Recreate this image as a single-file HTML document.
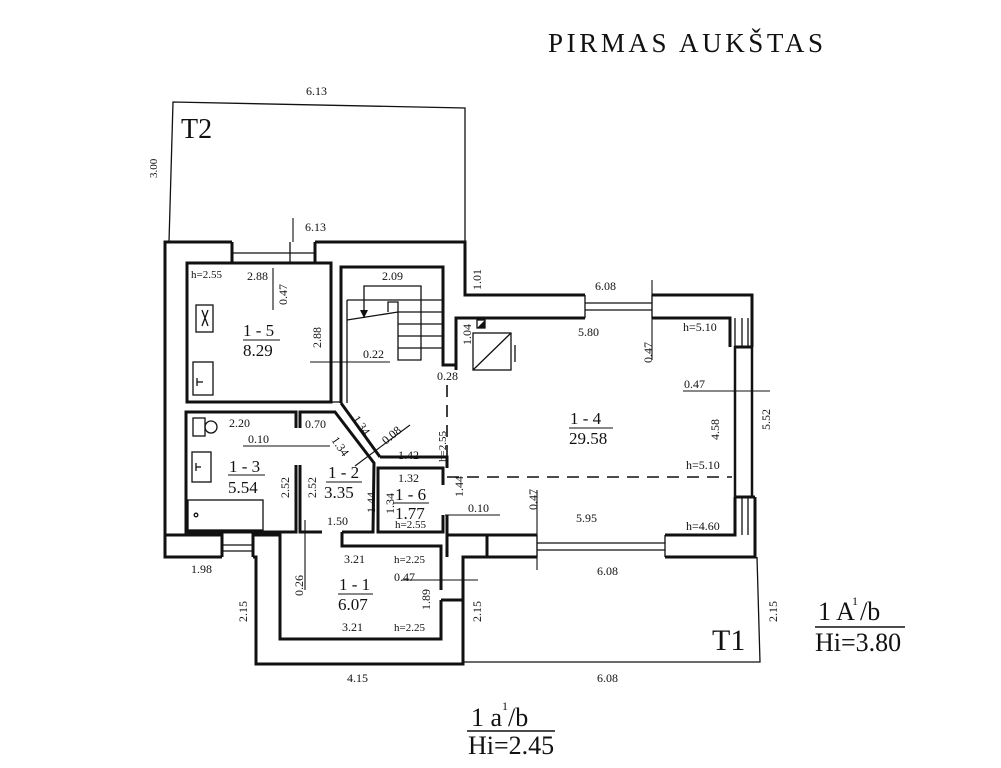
<!DOCTYPE html>
<html><head><meta charset="utf-8"><style>
html,body{margin:0;padding:0;background:#fff;}
svg{display:block;}
text{font-family:"Liberation Serif",serif;fill:#111;}
</style></head><body>
<svg width="1001" height="768" viewBox="0 0 1001 768" xmlns="http://www.w3.org/2000/svg">
<rect width="1001" height="768" fill="#fff"/>
<text x="548" y="52" font-size="27" letter-spacing="3.6">PIRMAS AUKŠTAS</text>

<!-- T2 terrace -->
<g fill="none" stroke="#111" stroke-width="1.3">
<polyline points="169,242 173,102 465,108 465,290"/>
<!-- T1 terrace -->
<polyline points="463,662 760,662 757,557"/>
</g>
<text x="181" y="138" font-size="28">T2</text>
<text x="712" y="650" font-size="30">T1</text>

<!-- thick outer walls -->
<g fill="none" stroke="#111" stroke-width="3">
<polyline points="232,242 165,242 165,557 222,557"/>
<polyline points="253,557 256,557 256,664 463,664 463,557 537,557"/>
<polyline points="665,557 755,557 755,497"/>
<polyline points="752,347 752,295 652,295"/>
<polyline points="585,295 465,295 465,242 315,242"/>
<polyline points="456,370 456,318 585,318"/>
<polyline points="652,318 730,318 730,347"/>
<polyline points="735,497 735,535 665,535"/>
<polyline points="537,535 487,535 487,557"/>
<polyline points="735,347 752,347"/>
<polyline points="735,497 755,497"/>
<rect x="735" y="347" width="17" height="150" stroke-width="2.5"/>
<rect x="187" y="263" width="144" height="139"/>
<polyline points="232,242 232,263"/><polyline points="315,242 315,263"/>
<polyline points="341,403 341,267 443,267 443,365 456,365"/>
<polyline points="456,370 456,318"/>
<polyline points="296,428 296,412 186,412 186,532 296,532 296,465"/>
<polyline points="300,428 300,412 335,412 374,463 373,532 342,532"/>
<polyline points="300,465 300,532 322,532"/>
<line x1="341" y1="403" x2="380" y2="457"/>
<polyline points="380,457 447,457 447,468"/>
<polyline points="443,485 443,468 378,468 378,532 443,532 443,515"/>
<polyline points="222,557 222,535 165,535"/>
<polyline points="253,557 253,535 280,535 280,546"/>
<polyline points="342,532 342,546 441,546 441,590"/>
<polyline points="441,600 463,600"/>
<polyline points="441,600 441,639 280,639 280,546"/>
<polyline points="447,535 487,535"/>
<line x1="447" y1="515" x2="447" y2="557"/>
</g>

<g stroke="#111" stroke-width="1.3">
<line x1="585" y1="303" x2="652" y2="303"/><line x1="585" y1="310" x2="652" y2="310"/>
<line x1="585" y1="295" x2="585" y2="318"/><line x1="652" y1="295" x2="652" y2="318"/>
<line x1="735" y1="318" x2="735" y2="347"/><line x1="742" y1="318" x2="742" y2="347"/><line x1="748" y1="318" x2="748" y2="347"/>
<line x1="735" y1="497" x2="735" y2="535"/><line x1="742" y1="497" x2="742" y2="535"/><line x1="748" y1="497" x2="748" y2="535"/>
<line x1="537" y1="543" x2="665" y2="543"/><line x1="537" y1="550" x2="665" y2="550"/>
<line x1="537" y1="535" x2="537" y2="557"/><line x1="665" y1="535" x2="665" y2="557"/>
<line x1="222" y1="545" x2="253" y2="545"/><line x1="222" y1="551" x2="253" y2="551"/>
<line x1="232" y1="253" x2="315" y2="253"/>
<line x1="290" y1="242" x2="290" y2="263"/>
<line x1="347" y1="300" x2="443" y2="300"/>
<line x1="398" y1="312" x2="443" y2="312"/>
<line x1="398" y1="324" x2="443" y2="324"/>
<line x1="398" y1="336" x2="443" y2="336"/>
<line x1="398" y1="348" x2="443" y2="348"/>
<line x1="347" y1="320" x2="398" y2="312"/>
<polyline fill="none" points="364,318 364,286 421,286 421,360 398,360 398,302 388,302 388,312"/>
<line x1="347" y1="403" x2="347" y2="300"/>
<line x1="331" y1="402" x2="341" y2="402"/>
</g>
<polygon points="360,310 368,310 364,318" fill="#111"/>

<g stroke="#111" stroke-width="1.6" stroke-dasharray="12,8" fill="none">
<line x1="447" y1="385" x2="447" y2="468"/>
<line x1="447" y1="477" x2="732" y2="477"/>
</g>

<g fill="none" stroke="#111" stroke-width="1.3">
<rect x="196" y="305" width="17" height="27"/>
<rect x="193" y="362" width="20" height="33"/>
<line x1="197" y1="378" x2="197" y2="386"/><line x1="197" y1="382" x2="203" y2="382"/>
<rect x="193" y="418" width="12" height="18"/><circle cx="211" cy="427" r="6"/>
<rect x="192" y="452" width="19" height="30"/>
<line x1="196" y1="463" x2="196" y2="471"/><line x1="196" y1="467" x2="201" y2="467"/>
<rect x="188" y="500" width="75" height="30"/>
<circle cx="196" cy="515" r="1.8"/>
<rect x="473" y="333" width="38" height="37"/><line x1="473" y1="370" x2="511" y2="333"/>
<line x1="515" y1="345" x2="515" y2="362"/>
<rect x="477" y="320" width="8" height="8"/>
<path d="M202 310 L208 326 M208 310 L202 326"/>
</g>
<polygon points="477,328 485,320 485,328" fill="#111"/>

<g stroke="#111" stroke-width="1.1" fill="none">
<line x1="273" y1="268" x2="273" y2="310"/>
<line x1="310" y1="362" x2="390" y2="362"/>
<line x1="243" y1="446" x2="330" y2="446"/>
<line x1="683" y1="391" x2="770" y2="391"/>
<line x1="652" y1="280" x2="652" y2="360"/>
<line x1="537" y1="490" x2="537" y2="570"/>
<line x1="402" y1="580" x2="478" y2="580"/>
<line x1="305" y1="520" x2="305" y2="590"/>
<line x1="445" y1="515" x2="500" y2="515"/>
<line x1="355" y1="466" x2="410" y2="425"/>
<line x1="293" y1="218" x2="293" y2="242"/>
</g>

<g font-size="12">
<text x="306" y="95">6.13</text>
<text x="305" y="231">6.13</text>
<text transform="translate(157,178) rotate(-90)" font-size="11">3.00</text>
<text transform="translate(481,290) rotate(-90)">1.01</text>
<text x="191" y="278" font-size="11">h=2.55</text>
<text x="247" y="280">2.88</text>
<text transform="translate(287,305) rotate(-90)">0.47</text>
<text transform="translate(321,348) rotate(-90)">2.88</text>
<text x="382" y="280">2.09</text>
<text x="363" y="358">0.22</text>
<text x="437" y="380">0.28</text>
<text transform="translate(471,345) rotate(-90)">1.04</text>
<text x="595" y="290">6.08</text>
<text x="578" y="336">5.80</text>
<text x="683" y="331">h=5.10</text>
<text transform="translate(652,363) rotate(-90)">0.47</text>
<text x="684" y="388">0.47</text>
<text transform="translate(719,440) rotate(-90)">4.58</text>
<text transform="translate(770,430) rotate(-90)">5.52</text>
<text x="686" y="469">h=5.10</text>
<text x="686" y="530">h=4.60</text>
<text x="576" y="522">5.95</text>
<text transform="translate(537,510) rotate(-90)">0.47</text>
<text x="468" y="512">0.10</text>
<text transform="translate(463,497) rotate(-90)">1.44</text>
<text x="597" y="575">6.08</text>
<text x="597" y="682">6.08</text>
<text transform="translate(777,622) rotate(-90)">2.15</text>
<text transform="translate(481,622) rotate(-90)">2.15</text>
<text transform="translate(247,622) rotate(-90)">2.15</text>
<text x="191" y="573">1.98</text>
<text x="347" y="682">4.15</text>
<text x="229" y="427">2.20</text>
<text x="248" y="443">0.10</text>
<text transform="translate(289,498) rotate(-90)">2.52</text>
<text transform="translate(316,498) rotate(-90)">2.52</text>
<text x="305" y="428">0.70</text>
<text transform="translate(352,419) rotate(55)">1.34</text>
<text transform="translate(331,440) rotate(55)">1.34</text>
<text transform="translate(386,445) rotate(-40)">0.08</text>
<text x="398" y="459">1.42</text>
<text x="398" y="482">1.32</text>
<text transform="translate(394,514) rotate(-90)">1.34</text>
<text transform="translate(375,513) rotate(-90)">1.44</text>
<text x="395" y="528" font-size="11">h=2.55</text>
<text transform="translate(446,462) rotate(-90)" font-size="11">h=2.55</text>
<text x="327" y="525">1.50</text>
<text x="344" y="563">3.21</text>
<text x="394" y="563" font-size="11">h=2.25</text>
<text x="394" y="581">0.47</text>
<text transform="translate(303,596) rotate(-90)">0.26</text>
<text transform="translate(430,610) rotate(-90)">1.89</text>
<text x="342" y="631">3.21</text>
<text x="394" y="631" font-size="11">h=2.25</text>
</g>

<g font-size="17">
<text x="243" y="336">1 - 5</text><line x1="243" y1="340" x2="280" y2="340" stroke="#111"/><text x="243" y="356">8.29</text>
<text x="229" y="472">1 - 3</text><line x1="228" y1="475" x2="265" y2="475" stroke="#111"/><text x="228" y="493">5.54</text>
<text x="328" y="478">1 - 2</text><line x1="326" y1="482" x2="362" y2="482" stroke="#111"/><text x="324" y="498">3.35</text>
<text x="395" y="500">1 - 6</text><line x1="393" y1="503" x2="429" y2="503" stroke="#111"/><text x="395" y="519">1.77</text>
<text x="570" y="424">1 - 4</text><line x1="569" y1="428" x2="613" y2="428" stroke="#111"/><text x="569" y="444">29.58</text>
<text x="339" y="590">1 - 1</text><line x1="338" y1="594" x2="373" y2="594" stroke="#111"/><text x="338" y="610">6.07</text>
</g>

<g font-size="26">
<text x="818" y="620">1  A</text><text x="852" y="605" font-size="12">1</text><text x="860" y="620">/b</text>
<line x1="815" y1="627" x2="905" y2="627" stroke="#111" stroke-width="1.5"/>
<text x="815" y="651">Hi=3.80</text>
<text x="471" y="726">1  a</text><text x="502" y="710" font-size="12">1</text><text x="508" y="726">/b</text>
<line x1="467" y1="731" x2="555" y2="731" stroke="#111" stroke-width="1.5"/>
<text x="468" y="754">Hi=2.45</text>
</g>
</svg>
</body></html>
